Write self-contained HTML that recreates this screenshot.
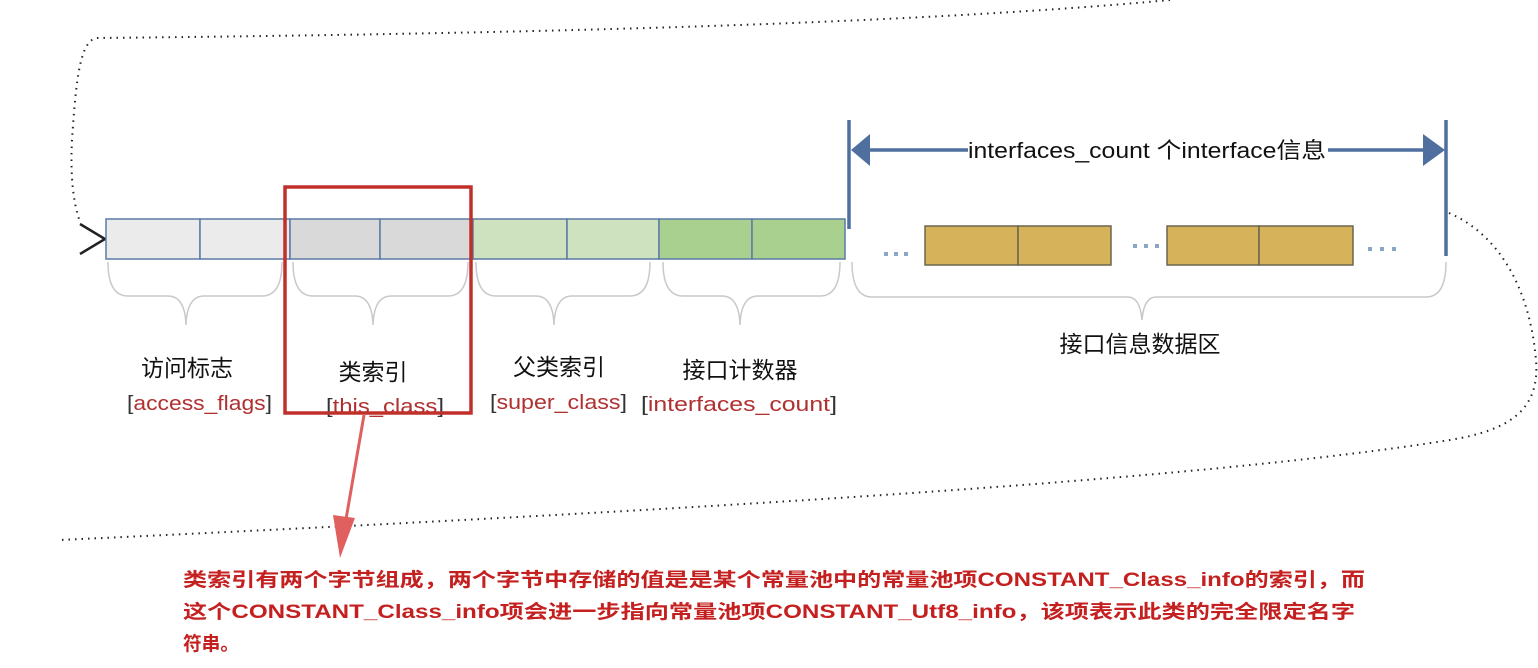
<!DOCTYPE html>
<html><head><meta charset="utf-8"><style>
html,body{margin:0;padding:0;background:#fff;}
body{width:1538px;height:668px;overflow:hidden;position:relative;}
svg{position:absolute;left:0;top:0;}
.t{font-family:"Liberation Sans","Noto Sans CJK SC",sans-serif;}
</style></head><body>
<svg width="1538" height="668" viewBox="0 0 1538 668" xmlns="http://www.w3.org/2000/svg">
<path d="M1170,0 C900,25 500,34 97,38 C80,40 76,80 72,140 C70,180 74,205 80,222" fill="none" stroke="#222" stroke-width="2" stroke-dasharray="1.5 5"/>
<path d="M1449,213 C1500,235 1530,290 1536,360 C1540,410 1510,430 1450,440 C1200,480 700,510 60,540" fill="none" stroke="#222" stroke-width="2" stroke-dasharray="1.5 5"/>
<path d="M80,224 L105,239 L80,254" fill="none" stroke="#222" stroke-width="2.5"/>
<g stroke="#5b7ba6" stroke-width="1.5">
<rect x="106" y="219" width="94" height="40" fill="#ebebeb"/>
<rect x="200" y="219" width="90" height="40" fill="#ebebeb"/>
<rect x="290" y="219" width="90" height="40" fill="#d9d9d9"/>
<rect x="380" y="219" width="93" height="40" fill="#d9d9d9"/>
<rect x="473" y="219" width="94" height="40" fill="#cfe2bf"/>
<rect x="567" y="219" width="92" height="40" fill="#cfe2bf"/>
<rect x="659" y="219" width="93" height="40" fill="#a9d08e"/>
<rect x="752" y="219" width="93" height="40" fill="#a9d08e"/>
</g>
<g stroke="#6a6650" stroke-width="1.5" fill="#d6b25a">
<rect x="925" y="226" width="93" height="39"/>
<rect x="1018" y="226" width="93" height="39"/>
<rect x="1167" y="226" width="92" height="39"/>
<rect x="1259" y="226" width="94" height="39"/>
</g>
<g fill="#8aa6c6">
<rect x="884" y="252" width="4" height="4"/><rect x="894" y="252" width="4" height="4"/><rect x="904" y="252" width="4" height="4"/>
<rect x="1133" y="244" width="4" height="4"/><rect x="1144" y="244" width="4" height="4"/><rect x="1155" y="244" width="4" height="4"/>
<rect x="1368" y="247" width="4" height="4"/><rect x="1380" y="247" width="4" height="4"/><rect x="1392" y="247" width="4" height="4"/>
</g>
<g stroke="#4f6f9e" stroke-width="3.5">
<line x1="849" y1="120" x2="849" y2="229"/>
<line x1="1446" y1="120" x2="1446" y2="256"/>
<line x1="870" y1="150" x2="968" y2="150"/>
<line x1="1328" y1="150" x2="1425" y2="150"/>
</g>
<polygon points="851,150 870,134 870,166" fill="#4f6f9e"/>
<polygon points="1445,150 1423,134 1423,166" fill="#4f6f9e"/>
<text x="968" y="158" class="t" font-size="22" fill="#111" textLength="358" lengthAdjust="spacingAndGlyphs">interfaces_count 个interface信息</text>
<g fill="none" stroke="#c9c9c9" stroke-width="1.5">
<path d="M108,262 Q108,296 128,296 L168,296 Q185,296 186,325 Q187,296 204,296 L262,296 Q282,296 282,262"/>
<path d="M293,262 Q293,296 313,296 L355,296 Q372,296 373,325 Q374,296 391,296 L448,296 Q468,296 468,262"/>
<path d="M476,262 Q476,296 496,296 L536,296 Q553,296 554,325 Q555,296 572,296 L630,296 Q650,296 650,262"/>
<path d="M663,262 Q663,296 683,296 L722,296 Q739,296 740,325 Q741,296 758,296 L820,296 Q840,296 840,262"/>
<path d="M852,262 Q852,297 872,297 L1128,297 Q1140,297 1142,320 Q1144,297 1156,297 L1426,297 Q1446,297 1446,262"/>
</g>
<g class="t" font-size="23" fill="#111" text-anchor="middle">
<text x="187" y="376">访问标志</text>
<text x="373" y="380">类索引</text>
<text x="559" y="375">父类索引</text>
<text x="740" y="378">接口计数器</text>
<text x="1140" y="352">接口信息数据区</text>
</g>
<g class="t" font-size="20">
<text x="127" y="410" fill="#b03030" textLength="145" lengthAdjust="spacingAndGlyphs"><tspan fill="#333">[</tspan>access_flags<tspan fill="#333">]</tspan></text>
<text x="326" y="413" fill="#b03030" textLength="118" lengthAdjust="spacingAndGlyphs"><tspan fill="#333">[</tspan>this_class<tspan fill="#333">]</tspan></text>
<text x="490" y="409" fill="#b03030" textLength="137" lengthAdjust="spacingAndGlyphs"><tspan fill="#333">[</tspan>super_class<tspan fill="#333">]</tspan></text>
<text x="641" y="411" fill="#b03030" textLength="196" lengthAdjust="spacingAndGlyphs"><tspan fill="#333">[</tspan>interfaces_count<tspan fill="#333">]</tspan></text>
</g>
<rect x="285" y="187" width="186" height="226" fill="none" stroke="#c0302a" stroke-width="3.5"/>
<line x1="364" y1="415" x2="345" y2="525" stroke="#e06060" stroke-width="3"/>
<polygon points="333,515 355,518 340,558" fill="#e06060"/>
<g class="t" font-size="19" font-weight="bold" fill="#c42020">
<text x="183" y="586" textLength="1182" lengthAdjust="spacingAndGlyphs">类索引有两个字节组成，两个字节中存储的值是是某个常量池中的常量池项CONSTANT_Class_info的索引，而</text>
<text x="183" y="618" textLength="1172" lengthAdjust="spacingAndGlyphs">这个CONSTANT_Class_info项会进一步指向常量池项CONSTANT_Utf8_info，该项表示此类的完全限定名字</text>
<text x="183" y="650" textLength="56" lengthAdjust="spacingAndGlyphs">符串。</text>
</g>
</svg>
</body></html>
